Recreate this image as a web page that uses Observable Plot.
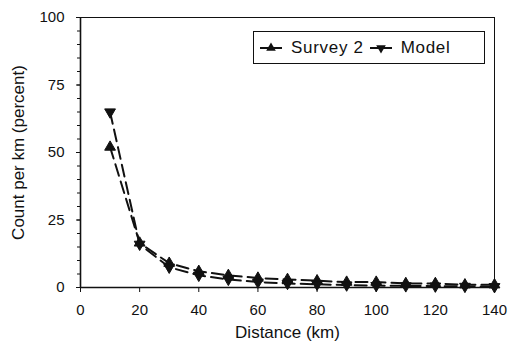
<!DOCTYPE html>
<html>
<head>
<meta charset="utf-8">
<script src="https://cdn.jsdelivr.net/npm/d3@7"></script>
<script src="https://cdn.jsdelivr.net/npm/@observablehq/plot@0.6"></script>
<style>
  html, body { margin: 0; padding: 0; background: #fff; }
  #wrap { position: relative; width: 509px; height: 345px; font-family: "Liberation Sans", Arial, Helvetica, sans-serif; }
  #legend { position: absolute; left: 253px; top: 31px; width: 230px; height: 31px; border: 1.3px solid #111; background: #fff;
            display: flex; align-items: center; font-size: 17px; letter-spacing: 0.7px; color: #111; }
  #legend .item { display: flex; align-items: center; }
  #legend svg { margin-left: 6px; margin-right: 9px; }
</style>
</head>
<body>
<div id="wrap"></div>
<script>
const distance = [10, 20, 30, 40, 50, 60, 70, 80, 90, 100, 110, 120, 130, 140];
const survey2  = [52, 16.5, 9, 6, 4.5, 3.5, 3, 2.5, 2, 2, 1.5, 1.5, 1, 1];
const model    = [65, 16, 7.5, 4.5, 3, 2, 1.5, 1.2, 0.9, 0.7, 0.6, 0.5, 0.4, 0.3];
const seriesNames = ["Survey 2", "Model"];
const xTicks = [0, 20, 40, 60, 80, 100, 120, 140];
const yTicks = [0, 25, 50, 75, 100];
const yMinorTicks = d3.range(0, 101, 5);

const surveyData = distance.map((d, i) => ({x: d, y: survey2[i]}));
const modelData = distance.map((d, i) => ({x: d, y: model[i]}));

const font = '"Liberation Sans", Arial, Helvetica, sans-serif';

const chart = Plot.plot({
  width: 509,
  height: 345,
  marginLeft: 80,
  marginRight: 15,
  marginTop: 17,
  marginBottom: 58,
  style: {fontFamily: font, fontSize: "15px", color: "#111", background: "transparent"},
  x: {domain: [0, 140]},
  y: {domain: [0, 100]},
  marks: [
    Plot.frame({stroke: "#111", strokeWidth: 1}),
    Plot.axisY({ticks: yMinorTicks, tickSize: 3, tickFormat: () => "", label: null, stroke: "#111"}),
    Plot.axisY({ticks: yTicks, tickSize: 4, tickPadding: 12, fontSize: 15, letterSpacing: 0.5, label: null, stroke: "#111"}),
    Plot.axisX({ticks: xTicks, tickSize: 5, tickPadding: 12, fontSize: 15, letterSpacing: 0.8, label: null, stroke: "#111"}),
    Plot.ruleY([0], {stroke: "#111", strokeWidth: 1.6}),
    Plot.ruleX([0], {stroke: "#111", strokeWidth: 1.6}),
    Plot.line(surveyData, {x: "x", y: "y", stroke: "#111", strokeWidth: 2, strokeDasharray: "12,6"}),
    Plot.line(modelData, {x: "x", y: "y", stroke: "#111", strokeWidth: 2, strokeDasharray: "12,6"}),
    Plot.dot(surveyData, {x: "x", y: "y", symbol: "triangle", r: 4, fill: "#111", stroke: "#111", strokeWidth: 1}),
    Plot.dot(modelData, {x: "x", y: "y", symbol: "triangle", rotate: 180, r: 4, fill: "#111", stroke: "#111", strokeWidth: 1}),
    Plot.text(["Distance (km)"], {frameAnchor: "bottom", dy: 50, text: d => d, fontSize: 17, letterSpacing: 0.6, fill: "#111"}),
    Plot.text(["Count per km (percent)"], {frameAnchor: "left", dx: -62, rotate: -90, textAnchor: "middle", text: d => d, fontSize: 17, letterSpacing: 0.6, fill: "#111"})
  ]
});

const wrap = document.getElementById("wrap");
wrap.appendChild(chart);

// Legend
const legend = document.createElement("div");
legend.id = "legend";
function symbolSvg(up) {
  const s = d3.create("svg").attr("width", 22).attr("height", 12);
  s.append("line").attr("x1", 0).attr("x2", 22).attr("y1", 6).attr("y2", 6).attr("stroke", "#111").attr("stroke-width", 2);
  const sym = d3.symbol(d3.symbolTriangle, 40)();
  s.append("path").attr("d", sym).attr("fill", "#111")
    .attr("transform", `translate(11,6) rotate(${up ? 0 : 180})`);
  return s.node();
}
seriesNames.forEach((name, i) => {
  const item = document.createElement("div");
  item.className = "item";
  item.appendChild(symbolSvg(i === 0));
  const t = document.createElement("span");
  t.textContent = name;
  item.appendChild(t);
  legend.appendChild(item);
});
wrap.appendChild(legend);
</script>
</body>
</html>
